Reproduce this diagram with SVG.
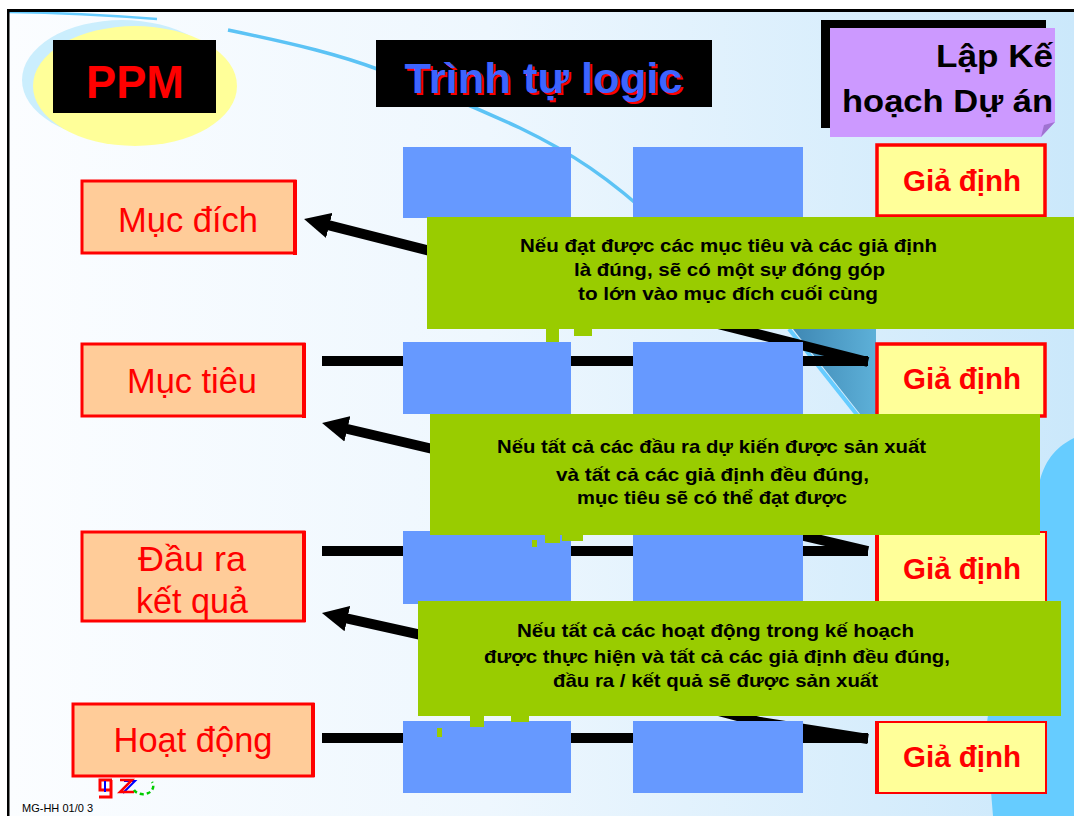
<svg xmlns="http://www.w3.org/2000/svg" width="1074" height="816" viewBox="0 0 1074 816">
<defs>
<linearGradient id="bg" x1="0" y1="0" x2="1" y2="0">
<stop offset="0" stop-color="#fbfdff"/>
<stop offset="0.45" stop-color="#eef7fe"/>
<stop offset="1" stop-color="#cbe8fb"/>
</linearGradient>
<linearGradient id="teal" x1="0" y1="0" x2="1" y2="0">
<stop offset="0" stop-color="#3f88b4"/>
<stop offset="1" stop-color="#5db0d8"/>
</linearGradient>
<marker id="ah" viewBox="-2 -14 28 28" markerWidth="28" markerHeight="28" refX="0" refY="0" orient="auto" markerUnits="userSpaceOnUse">
<path d="M-2,-13 L24,0 L-2,13 Z" fill="#000"/>
</marker>
<style>
.lbl{fill:#ffcc99;stroke:#ff0000;stroke-width:3}
.rb{stroke:#ff0000;stroke-width:4}
.lt{font-family:"Liberation Sans",Arial,sans-serif;font-size:35px;fill:#ff0000;text-anchor:middle}
.blue{fill:#6699ff}
.gd{fill:#ffff99;stroke:#ff0000;stroke-width:3.5}
.gd2{fill:#ffff99;stroke:#ff0000;stroke-width:2}
.gt{font-family:"Liberation Sans",Arial,sans-serif;font-weight:bold;font-size:29px;fill:#ff0000;text-anchor:middle}
.green{fill:#99cc00}
.tt{font-family:"Liberation Sans",Arial,sans-serif;font-weight:bold;font-size:19px;fill:#000;text-anchor:middle}
.ln{stroke:#000;stroke-width:10;fill:none;stroke-linecap:butt}
.hd{font-family:"Liberation Sans",Arial,sans-serif;font-weight:bold}
</style>
</defs>

<rect x="0" y="0" width="1074" height="816" fill="#ffffff"/>
<rect x="8" y="10" width="1066" height="806" fill="url(#bg)"/>

<g id="decor">
<path d="M9,12 Q80,13 157,19" fill="none" stroke="#66ccff" stroke-width="2.5"/>
<path d="M228,30 C300,45 340,55 380,70 C430,88 470,105 520,128 C570,152 610,178 660,225" fill="none" stroke="#5cc3f5" stroke-width="3.5"/>
<path d="M793,329 L876,329 L876,414 L860,414 Z" fill="url(#teal)"/>
<path d="M789,329 L858,416" fill="none" stroke="#66ccff" stroke-width="4"/>
<path d="M1074,438 C1058,446 1046,458 1040,480 C1030,540 1010,620 990,700 L986,730 L993,816 L1074,816 Z" fill="#66ccff"/>
<ellipse cx="122" cy="80" rx="100" ry="60" fill="#cbeefd"/>
<ellipse cx="135" cy="86" rx="102" ry="60" fill="#ffff99"/>
<rect x="7" y="9" width="1067" height="3" fill="#000"/>
<rect x="7" y="9" width="2.5" height="807" fill="#000"/>
<path d="M112,780 L100,780 L100,790 L111,790 M111,780 L111,797 L99,797" fill="none" stroke="#ff0000" stroke-width="3"/>
<path d="M105,781 L105,792 M124,781 L135,781 L123,793" fill="none" stroke="#0000ff" stroke-width="2"/>
<path d="M120,780 L132,780 L120,792 L134,792" fill="none" stroke="#ff0000" stroke-width="2.5"/>
<path d="M134,790 A10,8 0 0 0 152,782" fill="none" stroke="#00cc00" stroke-width="2.5" stroke-dasharray="4,3"/>
<text x="22" y="812" font-family="'Liberation Sans',Arial,sans-serif" font-size="11" fill="#000" textLength="71">MG-HH 01/0 3</text>
</g>

<g id="connectors">
<line class="ln" x1="322" y1="361" x2="868" y2="361"/>
<line class="ln" x1="322" y1="551" x2="868" y2="551"/>
<line class="ln" x1="322" y1="738" x2="868" y2="738"/>
<path class="ln" d="M868,362 L327.3,224.9" marker-end="url(#ah)"/>
<path class="ln" d="M868,551 L345.4,428.5" marker-end="url(#ah)"/>
<path class="ln" d="M868,739 L760,722 L480,648 L345.4,618.2" stroke-linejoin="round" marker-end="url(#ah)"/>
</g>

<g id="blue-boxes">
<rect class="blue" x="403" y="147" width="168" height="71"/>
<rect class="blue" x="633" y="147" width="170" height="71"/>
<rect class="blue" x="403" y="342" width="168" height="72"/>
<rect class="blue" x="633" y="342" width="170" height="72"/>
<rect class="blue" x="403" y="531" width="168" height="73"/>
<rect class="blue" x="633" y="531" width="170" height="73"/>
<rect class="blue" x="403" y="721" width="168" height="72"/>
<rect class="blue" x="633" y="721" width="170" height="72"/>
</g>

<g id="muc-dich">
<rect class="lbl" x="82" y="181" width="213" height="72"/>
<line class="rb" x1="295" y1="180" x2="295" y2="255"/>
<text class="lt" x="188" y="232" textLength="140" lengthAdjust="spacingAndGlyphs">Mục đích</text>
</g>
<g id="muc-tieu">
<rect class="lbl" x="82" y="344" width="222" height="72"/>
<line class="rb" x1="304" y1="343" x2="304" y2="418"/>
<text class="lt" x="192" y="393" textLength="130" lengthAdjust="spacingAndGlyphs">Mục tiêu</text>
</g>
<g id="dau-ra">
<rect class="lbl" x="82" y="532" width="222" height="89"/>
<line class="rb" x1="304" y1="531" x2="304" y2="622"/>
<text class="lt" x="192" y="571" textLength="108" lengthAdjust="spacingAndGlyphs">Đầu ra</text>
<text class="lt" x="192" y="613" textLength="112" lengthAdjust="spacingAndGlyphs">kết quả</text>
</g>
<g id="hoat-dong">
<rect class="lbl" x="73" y="704" width="240" height="72"/>
<line class="rb" x1="313" y1="703" x2="313" y2="777"/>
<text class="lt" x="193" y="752" textLength="159" lengthAdjust="spacingAndGlyphs">Hoạt động</text>
</g>

<g id="gia-dinh-1">
<rect class="gd" x="877" y="145" width="168" height="71"/>
<text class="gt" x="962" y="191" textLength="118" lengthAdjust="spacingAndGlyphs">Giả định</text>
</g>
<g id="gia-dinh-2">
<rect class="gd" x="877" y="344" width="168" height="72"/>
<text class="gt" x="962" y="389" textLength="118" lengthAdjust="spacingAndGlyphs">Giả định</text>
</g>
<g id="gia-dinh-3">
<rect class="gd2" x="876" y="532" width="170" height="72"/>
<line class="rb" x1="877" y1="531" x2="877" y2="605"/>
<text class="gt" x="962" y="579" textLength="118" lengthAdjust="spacingAndGlyphs">Giả định</text>
</g>
<g id="gia-dinh-4">
<rect class="gd2" x="876" y="722" width="170" height="71"/>
<line class="rb" x1="877" y1="721" x2="877" y2="794"/>
<text class="gt" x="962" y="767" textLength="118" lengthAdjust="spacingAndGlyphs">Giả định</text>
</g>

<g id="note-1">
<rect class="green" x="427" y="217" width="647" height="112"/>
<rect class="green" x="546" y="329" width="13" height="13"/>
<rect class="green" x="574" y="329" width="18" height="7"/>
<text class="tt" x="728.5" y="252" textLength="417" lengthAdjust="spacingAndGlyphs">Nếu đạt được các mục tiêu và các giả định</text>
<text class="tt" x="729.5" y="276" textLength="311" lengthAdjust="spacingAndGlyphs">là đúng, sẽ có một sự đóng góp</text>
<text class="tt" x="728" y="300" textLength="300" lengthAdjust="spacingAndGlyphs">to lớn vào mục đích cuối cùng</text>
</g>
<g id="note-2">
<rect class="green" x="430" y="414" width="610" height="121"/>
<rect class="green" x="532" y="540" width="5" height="7"/>
<rect class="green" x="545" y="530" width="15" height="13"/>
<rect class="green" x="562" y="530" width="21" height="11"/>
<text class="tt" x="711.5" y="453" textLength="429" lengthAdjust="spacingAndGlyphs">Nếu tất cả các đầu ra dự kiến được sản xuất</text>
<text class="tt" x="712.5" y="481" textLength="313" lengthAdjust="spacingAndGlyphs">và tất cả các giả định đều đúng,</text>
<text class="tt" x="712" y="504" textLength="270" lengthAdjust="spacingAndGlyphs">mục tiêu sẽ có thể đạt được</text>
</g>
<g id="note-3">
<rect class="green" x="418" y="601" width="643" height="115"/>
<rect class="green" x="470" y="716" width="14" height="11"/>
<rect class="green" x="511" y="716" width="18" height="6"/>
<rect class="green" x="437" y="728" width="5" height="9"/>
<text class="tt" x="715.5" y="637" textLength="397" lengthAdjust="spacingAndGlyphs">Nếu tất cả các hoạt động trong kế hoạch</text>
<text class="tt" x="717" y="663" textLength="466" lengthAdjust="spacingAndGlyphs">được thực hiện và tất cả các giả định đều đúng,</text>
<text class="tt" x="715.5" y="687" textLength="325" lengthAdjust="spacingAndGlyphs">đầu ra / kết quả sẽ được sản xuất</text>
</g>

<g id="ppm">
<rect x="53" y="40" width="163" height="73" fill="#000"/>
<text class="hd" x="135" y="98" font-size="47" fill="#ff0000" text-anchor="middle" textLength="98" lengthAdjust="spacingAndGlyphs">PPM</text>
</g>
<g id="title">
<rect x="376" y="40" width="336" height="67" fill="#000"/>
<text class="hd" x="545.5" y="95" font-size="42" fill="#ff0000" text-anchor="middle" textLength="278" lengthAdjust="spacingAndGlyphs">Trình tự logic</text>
<text class="hd" x="543.5" y="93" font-size="42" fill="#3d64ff" text-anchor="middle" textLength="278" lengthAdjust="spacingAndGlyphs">Trình tự logic</text>
</g>
<g id="plan">
<rect x="821" y="20" width="225" height="108" fill="#000"/>
<path d="M830,28 L1055,28 L1055,122 L1041,137 L830,137 Z" fill="#cc99ff"/>
<path d="M1055,122 L1041,137 L1044,125 Z" fill="#9f73d1"/>
<text class="hd" x="1053" y="67" font-size="32" fill="#000" text-anchor="end" textLength="117" lengthAdjust="spacingAndGlyphs">Lập Kế</text>
<text class="hd" x="1053" y="112" font-size="32" fill="#000" text-anchor="end" textLength="211" lengthAdjust="spacingAndGlyphs">hoạch Dự án</text>
</g>
</svg>
